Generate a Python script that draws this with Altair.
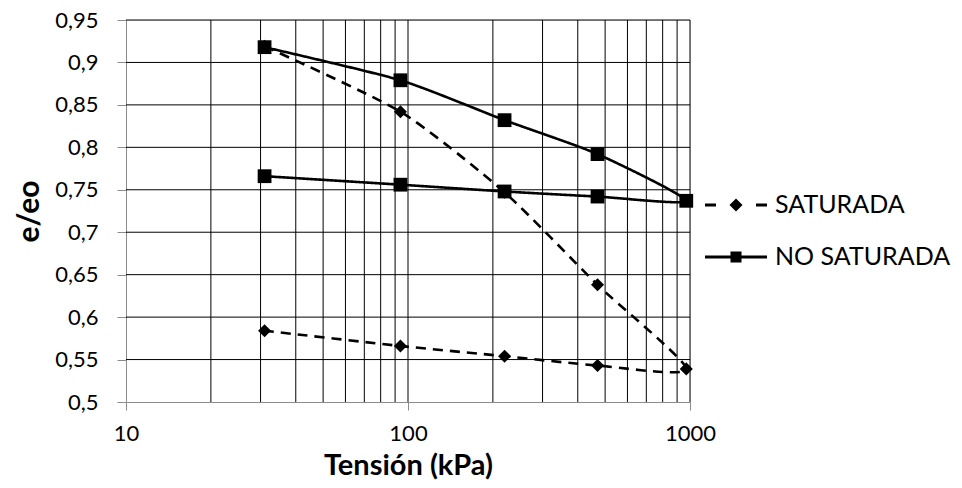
import altair as alt
import pandas as pd

# ---- data ----
tension = [31, 94, 220, 470, 970, 470, 220, 94, 31]
saturada = [0.919, 0.842, 0.747, 0.638, 0.539, 0.543, 0.554, 0.566, 0.584]
no_saturada = [0.918, 0.879, 0.832, 0.792, 0.737, 0.742, 0.748, 0.756, 0.766]
series = ["SATURADA", "NO SATURADA"]

x_ticks = [10, 100, 1000]
y_ticks = [0.5, 0.55, 0.6, 0.65, 0.7, 0.75, 0.8, 0.85, 0.9, 0.95]
grid_x = [20, 30, 40, 50, 60, 70, 80, 90, 100, 200, 300, 400, 500, 600, 700, 800, 900, 1000]
grid_y = [0.55, 0.6, 0.65, 0.7, 0.75, 0.8, 0.85, 0.9, 0.95]

rows = []
for i, (t, v) in enumerate(zip(tension, saturada)):
    rows.append({"serie": "SATURADA", "tension": t, "e": v, "orden": i})
for i, (t, v) in enumerate(zip(tension, no_saturada)):
    rows.append({"serie": "NO SATURADA", "tension": t, "e": v, "orden": i})
df = pd.DataFrame(rows)

FONT = "Lato"

xscale = alt.Scale(type="log", domain=[10, 1000], nice=False)
yscale = alt.Scale(domain=[0.5, 0.95], nice=False, zero=False)

xaxis = alt.Axis(values=x_ticks, format="d", grid=False, domainColor="#8c8c8c",
                 tickColor="#8c8c8c", tickSize=8, labelFontSize=22, labelFont=FONT,
                 labelColor="black", labelPadding=13, title="Tensión (kPa)",
                 titleFont=FONT, titleFontSize=29, titleFontWeight="bold",
                 titleColor="black", titleBaseline="alphabetic", titleY=72,
                 labelFlush=False)
yaxis = alt.Axis(values=y_ticks, labelExpr="replace(toString(datum.value), '.', ',')",
                 grid=False, domainColor="#8c8c8c", tickColor="#8c8c8c", tickSize=9,
                 labelFontSize=22, labelFont=FONT, labelColor="black", labelPadding=19,
                 title="e/eo", titleFont=FONT, titleFontSize=30, titleFontWeight="bold",
                 titleColor="black", titlePadding=10)

base = alt.Chart(df)

gx = alt.Chart(pd.DataFrame({"g": grid_x})).mark_rule(color="black", strokeWidth=1).encode(
    x=alt.X("g:Q", scale=xscale, axis=xaxis))
gy = alt.Chart(pd.DataFrame({"g": grid_y})).mark_rule(color="black", strokeWidth=1).encode(
    y=alt.Y("g:Q", scale=yscale, axis=yaxis))

def line_layer(name, dash):
    return base.transform_filter(alt.datum.serie == name).mark_line(
        color="black", strokeWidth=2.6, strokeDash=dash, interpolate="cardinal",
        tension=0.35, strokeCap="butt").encode(
        x=alt.X("tension:Q", scale=xscale),
        y=alt.Y("e:Q", scale=yscale),
        order="orden:Q")

def point_layer(name, shape, size):
    return base.transform_filter(alt.datum.serie == name).mark_point(
        shape=shape, size=size, filled=True, color="black", opacity=1).encode(
        x=alt.X("tension:Q", scale=xscale),
        y=alt.Y("e:Q", scale=yscale))

path_sat = ("M-1.24,-0.06L-0.8,-0.06L-0.8,0.06L-1.24,0.06Z "
            "M0,-0.26L0.26,0L0,0.26L-0.26,0Z "
            "M0.8,-0.06L1.24,-0.06L1.24,0.06L0.8,0.06Z")
path_nosat = ("M-1.24,-0.06L1.24,-0.06L1.24,0.06L-1.24,0.06Z "
              "M-0.22,-0.22L0.22,-0.22L0.22,0.22L-0.22,0.22Z")

legend_layer = base.transform_filter("false").mark_point(
    filled=True, color="black", opacity=1).encode(
    x=alt.X("tension:Q", scale=xscale),
    y=alt.Y("e:Q", scale=yscale),
    shape=alt.Shape("serie:N",
                    scale=alt.Scale(domain=series, range=[path_sat, path_nosat]),
                    legend=alt.Legend(title=None, orient="none", legendX=585, legendY=160,
                                      symbolSize=2500, symbolStrokeWidth=0,
                                      symbolFillColor="black", symbolOpacity=1,
                                      labelFont=FONT, labelFontSize=25, labelColor="black",
                                      labelOffset=14, rowPadding=14, padding=0,
                                      labelLimit=300)))

chart = alt.layer(
    gx, gy,
    line_layer("SATURADA", [10, 7]),
    point_layer("SATURADA", "diamond", 170),
    line_layer("NO SATURADA", [1, 0]),
    point_layer("NO SATURADA", "square", 190),
    legend_layer,
).properties(
    width=564, height=382,
    autosize=alt.AutoSizeParams(type="none"),
    padding={"left": 118, "top": 12, "right": 264, "bottom": 78},
).configure_view(stroke=None).configure(background="white")

chart.save("out.html", embed_options={"renderer": "svg", "actions": False})
